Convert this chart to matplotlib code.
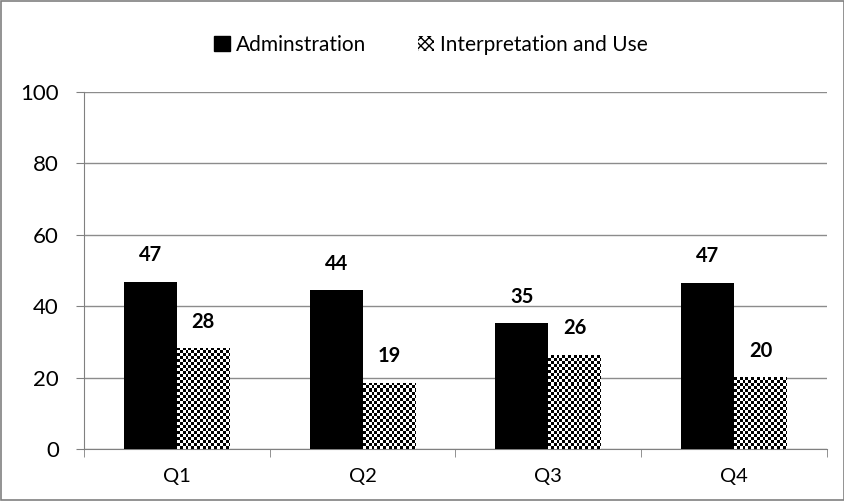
import numpy as np
import matplotlib.pyplot as plt
from matplotlib.patches import Patch, Rectangle

plt.rcParams['font.family'] = ['Lato', 'DejaVu Sans']

# Data
quarters = ['Q1', 'Q2', 'Q3', 'Q4']
admin = [46.8, 44.4, 35.3, 46.6]
interp = [28.2, 18.6, 26.4, 20.1]
yticks = [0, 20, 40, 60, 80, 100]

fig = plt.figure(figsize=(8.45, 5.01), dpi=100)
ax = fig.add_axes([0.0994, 0.1038, 0.8793, 0.7126])

x = np.arange(len(quarters))
w = 0.285

bars_a = ax.bar(x - w / 2, admin, w, color='black', zorder=3)
bars_i = ax.bar(x + w / 2, interp, w, color='white', zorder=3)

# checkerboard fill for the second series
checker = (np.indices((400, 400)).sum(axis=0) % 2).astype(float)
for b in bars_i:
    x0, y0 = b.get_x(), b.get_y()
    im = ax.imshow(checker, cmap='gray', vmin=0, vmax=1, interpolation='nearest',
                   extent=[x0, x0 + 400 * 0.0154, y0, y0 + 400 * 0.84],
                   aspect='auto', zorder=4)
    im.set_clip_path(b)

for b, v in zip(bars_a, admin):
    ax.text(b.get_x() + b.get_width() / 2, v + 4.6, f'{v:.0f}', ha='center', va='bottom',
            fontsize=14.5, fontweight='bold')
for b, v in zip(bars_i, interp):
    ax.text(b.get_x() + b.get_width() / 2, v + 4.6, f'{v:.0f}', ha='center', va='bottom',
            fontsize=14.5, fontweight='bold')

ax.set_xlim(-0.5, 3.5)
ax.set_ylim(0, 100)
ax.set_yticks(yticks)
ax.set_xticks(x)
ax.set_xticklabels(quarters)
ax.set_xticks([-0.5, 0.5, 1.5, 2.5, 3.5], minor=True)
ax.tick_params(axis='x', which='major', length=0, pad=14, labelsize=14.5)
ax.tick_params(axis='x', which='minor', length=6, color='#808080')
ax.tick_params(axis='y', length=6, color='#808080', labelsize=16, pad=12)
ax.yaxis.grid(True, color='#8c8c8c', linewidth=1, zorder=0)
ax.set_axisbelow(True)
for s in ['top', 'right']:
    ax.spines[s].set_visible(False)
for s in ['left', 'bottom']:
    ax.spines[s].set_color('#808080')

handles = [Patch(facecolor='black', edgecolor='black', label='Adminstration'),
           Patch(facecolor='white', edgecolor='black', hatch='xxxx', linewidth=0,
                 label='Interpretation and Use')]
fig.legend(handles=handles, loc='center', bbox_to_anchor=(0.51, 0.91), ncol=2, frameon=False,
           fontsize=15, handlelength=0.75, handleheight=0.75, handletextpad=0.3,
           columnspacing=2.5)

fig.patches.append(Rectangle((0.001, 0.001), 0.998, 0.998, transform=fig.transFigure,
                             fill=False, edgecolor='#808080', linewidth=1.2))

fig.savefig('out.png', dpi=100)
